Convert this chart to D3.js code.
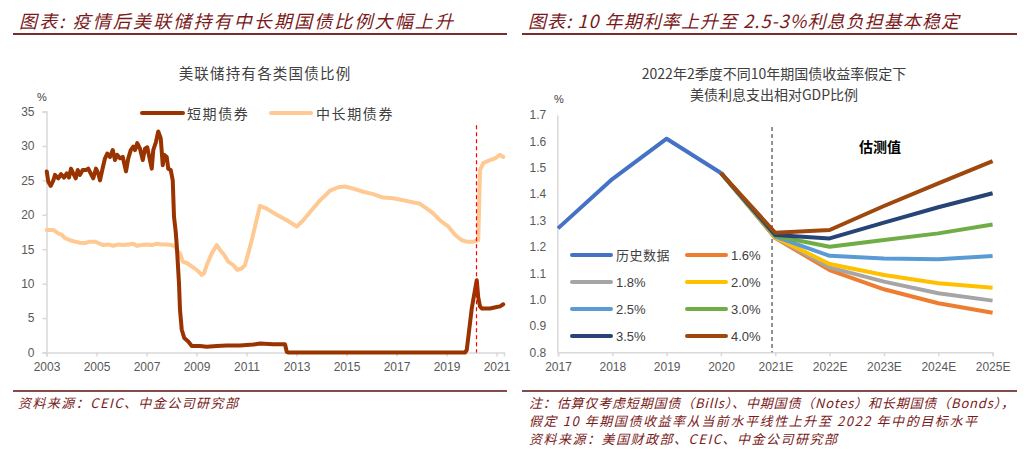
<!DOCTYPE html>
<html><head><meta charset="utf-8">
<script src="https://cdn.jsdelivr.net/npm/d3@7"></script>
<style>
html,body{margin:0;padding:0;background:#fff;}
svg text{font-family:"Liberation Sans","Noto Sans CJK SC",Arial,sans-serif;}
.cjk{font-family:"Noto Sans CJK SC","Liberation Sans",sans-serif;}
</style></head>
<body>
<svg id="c" width="1027" height="454"></svg>
<script>
// ---------- Left chart data (decimal year, % share) ----------
const shortYears = [2003.01,2003.07,2003.17,2003.27,2003.34,2003.47,2003.58,2003.70,2003.81,2003.90,2003.98,2004.07,2004.17,2004.25,2004.34,2004.45,2004.58,2004.67,2004.77,2004.87,2004.98,2005.07,2005.14,2005.23,2005.34,2005.43,2005.54,2005.65,2005.74,2005.83,2005.94,2006.05,2006.18,2006.27,2006.37,2006.47,2006.54,2006.63,2006.74,2006.85,2006.94,2007.03,2007.11,2007.21,2007.27,2007.38,2007.47,2007.57,2007.65,2007.71,2007.81,2007.87,2007.97,2008.05,2008.10,2008.17,2008.22,2008.26,2008.30,2008.34,2008.41,2008.51,2008.67,2008.81,2009.14,2009.41,2009.81,2010.21,2010.74,2011.27,2011.54,2012.07,2012.54,2012.61,2012.67,2013.5,2015,2017,2019,2019.74,2019.81,2020.01,2020.21,2020.27,2020.34,2020.41,2020.74,2021.01,2021.14,2021.27];
const shortValues = [26.3,24.8,24.2,24.95,25.8,25.3,25.9,25.4,26.0,25.4,26.7,26.0,25.3,26.5,25.8,26.5,26.5,26.7,26.0,25.3,26.7,26.0,25.0,26.5,28.2,28.9,28.4,29.4,27.95,28.7,28.2,28.4,26.3,28.2,29.4,29.9,29.4,30.4,29.6,27.95,29.6,29.8,28.4,26.7,29.4,30.6,32.1,31.1,27.2,28.7,28.4,26.7,26.5,25.0,19.7,17.5,15.0,12.5,10.0,6.2,3.3,2.1,1.6,0.94,0.94,0.85,0.94,1.0,1.0,1.15,1.3,1.2,1.2,0.1,0,0,0,0,0,0,0.36,6.4,10.5,8.0,6.7,6.4,6.4,6.6,6.7,7.0];
const midYears = [2003.01,2003.14,2003.27,2003.47,2003.61,2003.74,2003.94,2004.14,2004.34,2004.54,2004.74,2004.94,2005.07,2005.27,2005.47,2005.67,2005.87,2006.07,2006.27,2006.47,2006.61,2006.81,2007.01,2007.21,2007.41,2007.61,2007.81,2008.01,2008.14,2008.27,2008.34,2008.45,2008.61,2008.81,2009.01,2009.21,2009.30,2009.41,2009.61,2009.81,2009.94,2010.10,2010.27,2010.47,2010.63,2010.81,2010.94,2011.07,2011.21,2011.34,2011.54,2011.81,2012.21,2012.61,2013.01,2013.27,2013.61,2013.94,2014.34,2014.67,2014.94,2015.27,2015.67,2016.07,2016.47,2016.87,2017.27,2017.67,2017.94,2018.21,2018.47,2018.74,2019.07,2019.34,2019.61,2019.81,2020.07,2020.27,2020.34,2020.47,2020.74,2020.94,2021.14,2021.27];
const midValues = [17.8,17.8,17.8,17.3,17.1,16.6,16.3,16.1,15.95,15.9,16.1,16.1,15.9,15.6,15.7,15.5,15.7,15.6,15.7,15.8,15.5,15.6,15.7,15.6,15.8,15.7,15.7,15.6,15.4,14.6,14.4,13.2,13.0,12.5,12.0,11.25,11.5,12.7,14.4,15.6,14.9,14.2,13.2,12.7,12.0,12.2,12.7,14.4,16.3,18.3,21.3,20.9,20.0,19.2,18.3,19.2,20.7,22.1,23.5,24.0,24.1,23.8,23.35,23.0,22.5,22.4,22.1,21.8,21.6,20.9,20.2,19.2,18.3,17.1,16.3,16.1,16.1,16.3,26.5,27.5,27.95,28.2,28.7,28.4];
const leftYTicks = [0,5,10,15,20,25,30,35];
const leftXTicks = [2003,2005,2007,2009,2011,2013,2015,2017,2019,2021];
const covidMark = 2020.2;
const leftSeriesNames = ["短期债券","中长期债券"];

// ---------- Right chart data ----------
const rightCategories = ["2017","2018","2019","2020","2021E","2022E","2023E","2024E","2025E"];
const historyValues = [1.27,1.457,1.61,1.48,null,null,null,null,null];
const scenarioNames = ["1.6%","1.8%","2.0%","2.5%","3.0%","3.5%","4.0%"];
const s16 = [null,null,null,1.48,1.233,1.112,1.039,0.986,0.950];
const s18 = [null,null,null,1.48,1.235,1.122,1.068,1.024,0.996];
const s20 = [null,null,null,1.48,1.236,1.135,1.093,1.062,1.045];
const s25 = [null,null,null,1.48,1.239,1.166,1.156,1.153,1.165];
const s30 = [null,null,null,1.48,1.241,1.200,1.226,1.251,1.285];
const s35 = [null,null,null,1.48,1.245,1.232,1.292,1.350,1.403];
const s40 = [null,null,null,1.48,1.2535,1.264,1.355,1.441,1.525];
const rightYTicks = [0.8,0.9,1.0,1.1,1.2,1.3,1.4,1.5,1.6,1.7];

const svg = d3.select("#c");
const titleRed = "#7A1A1A";

// ---------- Headers / footers ----------
function header(x0, x1, text, tlen) {
  svg.append("text").attr("class","cjk").attr("x", x0+6).attr("y", 28)
    .attr("font-size", 18).attr("font-style","italic").attr("fill", titleRed)
    .attr("textLength", tlen).attr("lengthAdjust","spacing").text(text);
  svg.append("line").attr("x1", x0).attr("x2", x1).attr("y1", 34).attr("y2", 34)
    .attr("stroke", "#7B2C2C").attr("stroke-width", 2);
  svg.append("line").attr("x1", x0).attr("x2", x1).attr("y1", 391).attr("y2", 391)
    .attr("stroke", "#5A0F0F").attr("stroke-width", 1.5);
}
header(13, 507, "图表: 疫情后美联储持有中长期国债比例大幅上升", 434);
header(522, 1017, "图表: 10 年期利率上升至 2.5-3%利息负担基本稳定", 431);

function foot(x, y, text, tlen) {
  svg.append("text").attr("class","cjk").attr("x", x).attr("y", y)
    .attr("font-size", 13).attr("font-style","italic").attr("fill", titleRed)
    .attr("textLength", tlen).attr("lengthAdjust","spacing").text(text);
}
foot(18, 408, "资料来源：CEIC、中金公司研究部", 220);
foot(529, 408, "注：估算仅考虑短期国债（Bills）、中期国债（Notes）和长期国债（Bonds），", 485);
foot(529, 426, "假定 10 年期国债收益率从当前水平线性上升至 2022 年中的目标水平", 448);
foot(529, 444, "资料来源：美国财政部、CEIC、中金公司研究部", 308);

// ---------- Left chart ----------
const lx = d3.scaleLinear().domain([2003, 2021.3]).range([46.5, 504]);
const ly = d3.scaleLinear().domain([0, 35]).range([352.5, 111.5]);
const axisGray = "#D9D9D9", tickText = "#595959";

svg.append("text").attr("class","cjk").attr("x", 265).attr("y", 79).attr("text-anchor","middle")
  .attr("font-size", 14.5).attr("letter-spacing", 1.2).attr("fill", "#404040").text("美联储持有各类国债比例");
svg.append("text").attr("x", 42).attr("y", 101).attr("text-anchor","middle")
  .attr("font-size", 11).attr("fill", "#404040").text("%");

const gly = svg.append("g").attr("transform", `translate(${lx.range()[0]},0)`)
  .call(d3.axisLeft(ly).tickValues(leftYTicks).tickSize(4).tickPadding(8).tickFormat(d3.format("d")));
const glx = svg.append("g").attr("transform", `translate(0,${ly(0)})`)
  .call(d3.axisBottom(lx).tickValues(leftXTicks).tickSize(4).tickPadding(6).tickFormat(d3.format("d")));
[gly, glx].forEach(g => {
  g.select(".domain").attr("stroke", axisGray).attr("stroke-width", 1.5);
  g.selectAll(".tick line").attr("stroke", axisGray).attr("stroke-width", 1.5);
  g.selectAll(".tick text").attr("fill", tickText).attr("font-size", 12)
   .attr("font-family", "Liberation Sans, Arial, sans-serif");
});

const shortData = shortYears.map((t,i)=>({t, v: shortValues[i]}));
const midData = midYears.map((t,i)=>({t, v: midValues[i]}));
const lline = d3.line().x(d=>lx(d.t)).y(d=>ly(d.v)).curve(d3.curveLinear);
svg.append("path").datum(midData).attr("d", lline).attr("fill","none")
  .attr("stroke", "#FFC994").attr("stroke-width", 4).attr("stroke-linejoin","round").attr("stroke-linecap","round");
svg.append("path").datum(shortData).attr("d", lline).attr("fill","none")
  .attr("stroke", "#993300").attr("stroke-width", 4).attr("stroke-linejoin","round").attr("stroke-linecap","round");

svg.append("line").attr("x1", lx(covidMark)).attr("x2", lx(covidMark))
  .attr("y1", ly(33)).attr("y2", ly(0)).attr("stroke", "#FF0000").attr("stroke-width", 1.2)
  .attr("stroke-dasharray", "4,3");

// left legend
const leftLegend = [
  {name: leftSeriesNames[0], color:"#993300", x1:142, x2:183, tx:187},
  {name: leftSeriesNames[1], color:"#FFC994", x1:271, x2:311, tx:316}
];
leftLegend.forEach(l => {
  svg.append("line").attr("x1", l.x1).attr("x2", l.x2).attr("y1", 113).attr("y2", 113)
    .attr("stroke", l.color).attr("stroke-width", 4).attr("stroke-linecap","round");
  svg.append("text").attr("class","cjk").attr("x", l.tx).attr("y", 118.5)
    .attr("font-size", 14).attr("letter-spacing", 1.6).attr("fill", "#404040").text(l.name);
});

// ---------- Right chart ----------
const rx = d3.scalePoint().domain(rightCategories).range([558, 992.6]);
const ry = d3.scaleLinear().domain([0.8, 1.7]).range([352.3, 115]);

svg.append("text").attr("class","cjk").attr("x", 774).attr("y", 79).attr("text-anchor","middle")
  .attr("font-size", 14).attr("fill", "#404040").text("2022年2季度不同10年期国债收益率假定下");
svg.append("text").attr("class","cjk").attr("x", 774).attr("y", 100).attr("text-anchor","middle")
  .attr("font-size", 14).attr("fill", "#404040").text("美债利息支出相对GDP比例");
svg.append("text").attr("x", 559).attr("y", 103).attr("text-anchor","middle")
  .attr("font-size", 11).attr("fill", "#404040").text("%");

const gry = svg.append("g").attr("transform", `translate(557.3,0)`)
  .call(d3.axisLeft(ry).tickValues(rightYTicks).tickSize(0).tickPadding(11).tickFormat(d3.format(".1f")));
const grx = svg.append("g").attr("transform", `translate(0,${ry(0.8)})`)
  .call(d3.axisBottom(rx).tickSize(4).tickPadding(6));
[gry, grx].forEach(g => {
  g.select(".domain").attr("stroke", axisGray).attr("stroke-width", 1.5);
  g.selectAll(".tick line").attr("stroke", axisGray).attr("stroke-width", 1.5);
  g.selectAll(".tick text").attr("fill", tickText).attr("font-size", 12)
   .attr("font-family", "Liberation Sans, Arial, sans-serif");
});

const dashX = rx("2020") + 0.94*(rx("2021E") - rx("2020"));
svg.append("line").attr("x1", dashX).attr("x2", dashX).attr("y1", 127).attr("y2", ry(0.8))
  .attr("stroke", "#262626").attr("stroke-width", 1).attr("stroke-dasharray", "4,3");
svg.append("text").attr("class","cjk").attr("x", 880).attr("y", 152).attr("text-anchor","middle")
  .attr("font-size", 14).attr("font-weight", "bold").attr("fill", "#000").text("估测值");

const rSeries = [
  {name:"历史数据", values: historyValues, color:"#4472C4"},
  {name:scenarioNames[0], values: s16, color:"#ED7D31"},
  {name:scenarioNames[1], values: s18, color:"#A5A5A5"},
  {name:scenarioNames[2], values: s20, color:"#FFC000"},
  {name:scenarioNames[3], values: s25, color:"#5B9BD5"},
  {name:scenarioNames[4], values: s30, color:"#70AD47"},
  {name:scenarioNames[5], values: s35, color:"#264478"},
  {name:scenarioNames[6], values: s40, color:"#9E480E"}
];
const rline = d3.line().defined(d=>d.v!=null).x(d=>rx(d.c)).y(d=>ry(d.v));
rSeries.forEach(s => {
  const data = rightCategories.map((c,i)=>({c, v:s.values[i]}));
  svg.append("path").datum(data).attr("d", rline).attr("fill","none")
    .attr("stroke", s.color).attr("stroke-width", 4).attr("stroke-linejoin","round");
});

// right legend (2 columns x 4 rows)
rSeries.forEach((s,i) => {
  const col = i % 2, row = Math.floor(i/2);
  const x1 = col === 0 ? 572 : 687;
  const y = 255 + row*27;
  svg.append("line").attr("x1", x1).attr("x2", x1+39).attr("y1", y).attr("y2", y)
    .attr("stroke", s.color).attr("stroke-width", 4).attr("stroke-linecap","round");
  svg.append("text").attr("class", i===0 ? "cjk" : null).attr("x", x1+44).attr("y", y+5)
    .attr("font-size", 13).attr("letter-spacing", i===0 ? 0.5 : 0).attr("fill", "#404040").text(s.name);
});
</script>
</body></html>
